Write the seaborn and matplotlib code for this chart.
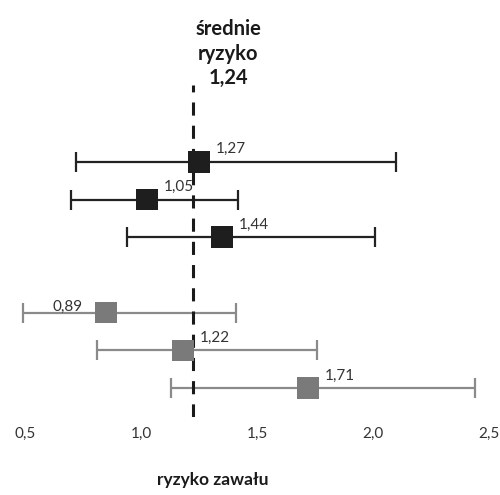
import numpy as np
import pandas as pd
import seaborn as sns
import matplotlib.pyplot as plt

# --- data ---
groups = ['A', 'A', 'A', 'B', 'B', 'B']
point = [1.25, 1.025, 1.35, 0.85, 1.18, 1.72]
low = [0.72, 0.70, 0.94, 0.49, 0.81, 1.13]
high = [2.10, 1.42, 2.01, 1.41, 1.76, 2.44]
value_labels = ['1,27', '1,05', '1,44', '0,89', '1,22', '1,71']
label_left = [False, False, False, True, False, False]
mean_risk = 1.225
mean_text = 'średnie\nryzyko\n1,24'
x_ticks = [0.5, 1.0, 1.5, 2.0, 2.5]
x_tick_labels = ['0,5', '1,0', '1,5', '2,0', '2,5']
x_title = 'ryzyko zawału'

colors = {'A': '#1e1e1e', 'B': '#7a7a7a'}
line_colors = {'A': '#222222', 'B': '#8a8a8a'}

df = pd.DataFrame({'group': groups, 'point': point, 'low': low, 'high': high})
# one blank row between the two groups
df['row'] = np.arange(len(df)) + pd.factorize(df['group'])[0]

sns.set_theme(style='white')
plt.rcParams['font.family'] = ['Lato', 'DejaVu Sans']

fig = plt.figure(figsize=(5.0, 4.95), dpi=100)
ax = fig.add_axes([0.05, 0.1576, 0.928, 0.6707])

for g, sub in df.groupby('group'):
    ax.errorbar(sub['point'], sub['row'],
                xerr=[sub['point'] - sub['low'], sub['high'] - sub['point']],
                fmt='none', ecolor=line_colors[g], elinewidth=1.6,
                capsize=7.5, capthick=1.6, clip_on=False, zorder=2)

ax.axvline(mean_risk, color='#1a1a1a', lw=2.2, dashes=(4.3, 3.3), zorder=3)

sns.scatterplot(data=df, x='point', y='row', hue='group', palette=colors,
                marker='s', s=240, linewidth=0, legend=False, ax=ax,
                zorder=4, clip_on=False)

for i, r in df.iterrows():
    if label_left[i]:
        ax.annotate(value_labels[i], (r['point'], r['row']),
                    xytext=(-17, 4), textcoords='offset points',
                    ha='right', va='center', fontsize=11, color='#333333')
    else:
        ax.annotate(value_labels[i], (r['point'], r['row']),
                    xytext=(12, 9), textcoords='offset points',
                    ha='left', va='center', fontsize=11, color='#333333')

# the heading over the dashed line sits a little to its right
ax.text(mean_risk + 0.15, 0.99, mean_text, transform=ax.get_xaxis_transform(),
        ha='center', va='bottom', fontsize=14.5, fontweight='bold',
        color='#1a1a1a', linespacing=1.3)

ax.set_xlim(0.5, 2.5)
ax.set_ylim(6.77, -2.04)
ax.set_xticks(x_ticks)
ax.set_xticklabels(x_tick_labels, fontsize=11, color='#333333')
ax.tick_params(axis='x', length=0, pad=7)
ax.set_yticks([])
ax.set_ylabel('')
ax.set_xlabel('')
ax.text(0.405, -0.19, x_title, transform=ax.transAxes, ha='center',
        va='center', fontsize=12.5, fontweight='bold', color='#1a1a1a')
sns.despine(ax=ax, left=True, bottom=True)

fig.savefig('out.png', dpi=100)
